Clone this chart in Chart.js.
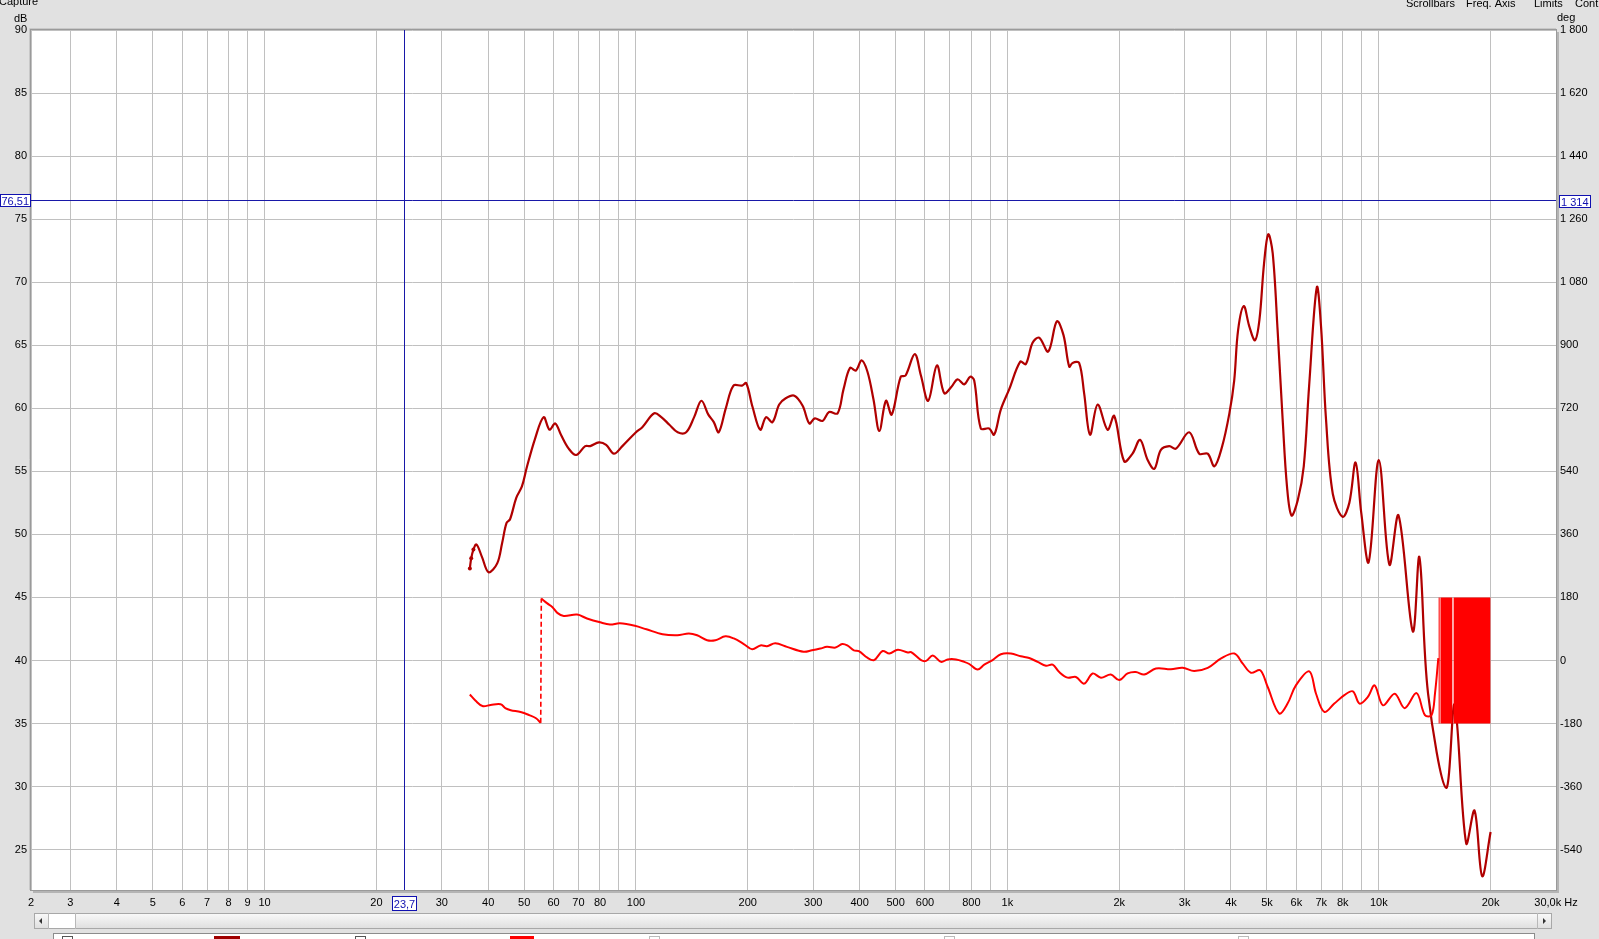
<!DOCTYPE html>
<html>
<head>
<meta charset="utf-8">
<script src="https://cdn.jsdelivr.net/npm/chart.js@4.4.0/dist/chart.umd.min.js"></script>
<style>
  html, body { margin: 0; padding: 0; background: #e1e1e1; overflow: hidden; }
  #wrap { position: absolute; left: 0; top: 0; width: 1599px; height: 939px; }
</style>
</head>
<body>
<div id="wrap"><canvas id="rew" width="1599" height="939"></canvas></div>
<script>
// magnitude trace (Hz, dB)
const magFreq = [35.7, 36.0, 36.5, 37.2, 38.5, 40.1, 42.3, 43.6, 44.8, 45.8, 47.6, 49.3, 50.8, 53.5, 56.4,
  58.5, 60.6, 62.8, 65.9, 69.0, 73.0, 75.3, 79.5, 83.1, 87.2, 91.9, 100, 104, 112, 117, 123, 129.5,
  136.5, 143.4, 150, 156.6, 162, 167, 174.5, 183, 193, 198, 206, 216, 224, 233, 243, 253, 267, 281,
  293, 303, 318, 331, 349, 362, 377, 391, 405, 420, 436, 452, 471, 488, 516, 532, 563, 585, 612, 646,
  676, 707, 734, 765, 794, 814, 848, 893, 921, 960, 1011, 1083, 1121, 1169, 1218, 1288, 1359, 1416,
  1467, 1498, 1560, 1609, 1669, 1750, 1861, 1939, 2062, 2172, 2276, 2386, 2486, 2590, 2728, 2843,
  3087, 3285, 3462, 3608, 3780, 3960, 4080, 4180, 4330, 4480, 4640, 4770, 4910, 5040, 5180, 5340,
  5510, 5660, 5820, 6050, 6280, 6490, 6810, 6990, 7210, 7520, 7990, 8330, 8660, 8970, 9390, 10000,
  10680, 11300, 12350, 12860, 13570, 15180, 16000, 17190, 18100, 18980, 20000];
const magDb = [47.3, 48.1, 48.8, 49.2, 48.2, 47.0, 47.7, 49.3, 50.9, 51.2, 52.9, 53.8, 55.3, 57.6, 59.3,
  58.3, 58.8, 57.9, 56.8, 56.3, 57.0, 57.0, 57.3, 57.1, 56.4, 57.0, 58.1, 58.5, 59.6, 59.3, 58.7, 58.1,
  58.1, 59.3, 60.6, 59.5, 58.9, 58.1, 60.0, 61.8, 61.8, 62.0, 60.1, 58.3, 59.3, 58.9, 60.3, 60.8, 61.0, 60.2,
  58.8, 59.2, 59.0, 59.7, 59.6, 61.5, 63.2, 63.0, 63.8, 62.9, 60.7, 58.2, 60.6, 59.5, 62.5, 62.6, 64.3, 62.6, 60.6, 63.4,
  61.2, 61.7, 62.3, 61.9, 62.5, 62.2, 58.4, 58.4, 57.9, 59.9, 61.5, 63.7, 63.5, 65.2, 65.6, 64.5, 66.9, 65.8,
  63.3, 63.6, 63.6, 61.2, 57.9, 60.3, 58.3, 59.4, 55.8, 56.4, 57.5, 55.9, 55.2, 56.7, 57.0, 56.8,
  58.1, 56.4, 56.4, 55.4, 56.9, 59.6, 62.2, 66.2, 68.1, 66.5, 65.4, 67.0, 71.5, 73.8, 72.3, 66.2,
  59.1, 53.8, 51.5, 52.7, 55.4, 61.7, 69.6, 66.5, 59.1, 53.2, 51.4, 52.5, 55.7, 51.7, 47.8, 55.9,
  47.6, 51.5, 42.3, 48.2, 37.4, 29.9, 36.5, 25.5, 28.1, 22.9, 26.4];

// phase trace (Hz, degrees, wrapped to +-180)
const phaseFreq = [35.7, 37.0, 38.6, 40.6, 43.2, 44.6, 46.0, 48.9, 51.6, 53.8, 55.4, 55.6, 57.7, 59.5,
  61.4, 63.9, 69.4, 73.8, 80.1, 85.1, 90.5, 99.3, 106.7, 117.9, 129.2, 138.8, 146.1, 155.4, 163.6, 174.1,
  183.4, 195.1, 205.5, 216.3, 225.3, 237.1, 254.9, 282.6, 297.6, 313.4, 326.7, 344.5, 359.2, 370.5,
  386.1, 398.2, 419.6, 437.5, 461.2, 481, 506.9, 539.4, 550.6, 585.7, 604.1, 629.7, 662.6, 690.6, 727.3,
  765.3, 789.3, 831.3, 866.3, 912.3, 960.4, 1022, 1087, 1145, 1206, 1270, 1324, 1379, 1452, 1529, 1610,
  1696, 1786, 1899, 2000, 2107, 2218, 2335, 2511, 2756, 2964, 3184, 3463, 3762, 4085, 4303, 4528, 4795,
  5019, 5393, 5680, 5981, 6500, 6777, 7134, 7590, 8077, 8514, 8874, 9344, 9743, 10262, 11037, 11741,
  12636, 13311, 13873, 14164, 14466];
const phaseDeg = [-97, -115, -130, -127, -125, -137, -142, -147, -156, -165, -178, 177, 163, 153,
  136, 127, 131, 120, 109, 103, 106, 99, 89, 75, 72, 77, 72, 58, 58, 69,
  63, 47, 32, 43, 41, 49, 39, 25, 29, 34, 39, 37, 47, 43,
  29, 27, 8, 1, 27, 20, 31, 23, 24, 1, -1, 14, -4, 3, 3,
  -4, -10, -26, -12, 1, 18, 20, 12, 7, -4, -15, -12, -33, -49, -47, -66,
  -37, -49, -40, -56, -37, -33, -40, -23, -25, -21, -30, -21, 6, 20, -9, -35, -28,
  -75, -151, -123, -71, -31, -95, -147, -123, -99, -88, -123, -104, -71, -128, -95, -136,
  -93, -156, -156, -95, 7];

// frequency bands where the phase wraps too fast to resolve (Hz)
const wrapBandStart = [14470, 14640, 15880];
const wrapBandEnd = [14600, 15800, 20000];

// axes
const freqTicks = [2.35, 3, 4, 5, 6, 7, 8, 9, 10, 20, 30, 40, 50, 60, 70, 80, 90, 100, 200, 300, 400, 500,
  600, 700, 800, 900, 1000, 2000, 3000, 4000, 5000, 6000, 7000, 8000, 9000, 10000, 20000, 30000];
const freqTickLabels = ['2', '3', '4', '5', '6', '7', '8', '9', '10', '20', '30', '40', '50', '60', '70', '80', '',
  '100', '200', '300', '400', '500', '600', '', '800', '', '1k', '2k', '3k', '4k', '5k', '6k', '7k', '8k', '',
  '10k', '20k', '30,0k Hz'];
const dbTicks = [25, 30, 35, 40, 45, 50, 55, 60, 65, 70, 75, 80, 85, 90];
const degTicks = [-540, -360, -180, 0, 180, 360, 540, 720, 900, 1080, 1260, 1440, 1620, 1800];
const degTickLabels = ['-540', '-360', '-180', '0', '180', '360', '540', '720', '900', '1 080', '1 260',
  '1 440', '1 620', '1 800'];

const cursorFreq = 23.7, cursorDb = 76.51;
const cursorFreqLabel = '23,7', cursorDbLabel = '76,51', cursorDegLabel = '1 314';

const dbMin = 21.8, dbMax = 90;
const degPerDb = 36, degZeroDb = 40;

const FONT = '"Liberation Sans", Arial, sans-serif';

// split phase where it wraps so the jump can be drawn dashed
let phaseParts = [[]];
let phaseJumps = [];
for (let i = 0; i < phaseFreq.length; i++) {
  if (i > 0 && Math.abs(phaseDeg[i] - phaseDeg[i - 1]) > 250) {
    phaseJumps.push([{x: phaseFreq[i - 1], y: phaseDeg[i - 1]}, {x: phaseFreq[i], y: phaseDeg[i]}]);
    phaseParts.push([]);
  }
  phaseParts[phaseParts.length - 1].push({x: phaseFreq[i], y: phaseDeg[i]});
}

let datasets = [];
datasets.push({
  label: 'SPL',
  data: magFreq.map((f, i) => ({x: f, y: magDb[i]})),
  yAxisID: 'y',
  borderColor: '#b00000',
  borderWidth: 2.2,
  tension: 0.35,
  pointRadius: ctx => ctx.dataIndex < 3 ? 2 : 0,
  pointBackgroundColor: '#b00000',
  pointBorderWidth: 0,
  order: 5
});
phaseParts.forEach(part => {
  datasets.push({
    label: 'Phase',
    data: part,
    yAxisID: 'y2',
    borderColor: '#ff0000',
    borderWidth: 2,
    tension: 0.35,
    pointRadius: 0,
    order: 2
  });
});
phaseJumps.forEach(j => {
  datasets.push({
    label: 'wrap',
    data: j,
    yAxisID: 'y2',
    borderColor: '#ff0000',
    borderWidth: 1.6,
    borderDash: [5, 3],
    tension: 0,
    pointRadius: 0,
    order: 2
  });
});
wrapBandStart.forEach((f0, i) => {
  datasets.push({
    label: 'wrapband',
    data: [{x: f0, y: 180}, {x: wrapBandEnd[i], y: 180}],
    yAxisID: 'y2',
    borderWidth: 0,
    borderColor: '#ff0000',
    backgroundColor: '#ff0000',
    fill: {value: -180},
    tension: 0,
    pointRadius: 0,
    order: 1
  });
});

function boxLabel(ctx, text, x, y, w, h, align) {
  ctx.fillStyle = '#ffffff';
  ctx.fillRect(x, y, w, h);
  ctx.strokeStyle = '#1010b0';
  ctx.lineWidth = 1;
  ctx.strokeRect(x + 0.5, y + 0.5, w - 1, h - 1);
  ctx.fillStyle = '#1010b0';
  ctx.font = '11px ' + FONT;
  ctx.textBaseline = 'middle';
  ctx.textAlign = align;
  let tx = align === 'left' ? x + 2 : (align === 'right' ? x + w - 2 : x + w / 2);
  ctx.fillText(text, tx, y + h / 2 + 1);
}

const chromePlugin = {
  id: 'chrome',
  beforeDraw(chart) {
    const ctx = chart.ctx, a = chart.chartArea;
    ctx.save();
    ctx.fillStyle = '#e1e1e1';
    ctx.fillRect(0, 0, chart.width, chart.height);
    // plot shadow + white area
    ctx.fillStyle = '#b4b4b4';
    ctx.fillRect(a.right, a.top + 2, 3, a.bottom - a.top + 1);
    ctx.fillRect(a.left + 2, a.bottom, a.right - a.left + 1, 3);
    ctx.fillStyle = '#ffffff';
    ctx.fillRect(a.left, a.top, a.right - a.left, a.bottom - a.top);
    ctx.restore();
  },
  afterDatasetsDraw(chart) {
    const ctx = chart.ctx, a = chart.chartArea;
    const xs = chart.scales.x, ys = chart.scales.y;
    ctx.save();
    // cursor
    const cx = Math.round(xs.getPixelForValue(cursorFreq)) + 0.5;
    const cy = Math.round(ys.getPixelForValue(cursorDb)) + 0.5;
    ctx.strokeStyle = '#1818a8';
    ctx.lineWidth = 1;
    ctx.beginPath();
    ctx.moveTo(cx, a.top); ctx.lineTo(cx, a.bottom);
    ctx.moveTo(a.left, cy); ctx.lineTo(a.right, cy);
    ctx.stroke();
    // plot border
    ctx.strokeStyle = '#9a9a9a';
    ctx.strokeRect(a.left - 0.5, a.top - 0.5, a.right - a.left + 1, a.bottom - a.top + 1);
    ctx.strokeStyle = '#c8c8c8';
    ctx.beginPath();
    ctx.moveTo(a.left - 1.5, a.bottom); ctx.lineTo(a.left - 1.5, a.top - 1.5); ctx.lineTo(a.right, a.top - 1.5);
    ctx.stroke();
    ctx.restore();
  },
  afterDraw(chart) {
    const ctx = chart.ctx, a = chart.chartArea;
    const xs = chart.scales.x, ys = chart.scales.y;
    ctx.save();
    const cx = xs.getPixelForValue(cursorFreq);
    const cy = Math.round(ys.getPixelForValue(cursorDb));
    boxLabel(ctx, cursorDbLabel, 0, cy - 6, 31, 13, 'right');
    boxLabel(ctx, cursorDegLabel, a.right + 3, cy - 5, 32, 13, 'left');
    boxLabel(ctx, cursorFreqLabel, Math.round(cx) - 12, a.bottom + 6, 25, 15, 'center');

    ctx.fillStyle = '#000';
    ctx.font = '11px ' + FONT;
    ctx.textBaseline = 'alphabetic';
    ctx.textAlign = 'left';
    ctx.fillText('dB', 14, 22);
    ctx.fillText('deg', 1557, 21);
    ctx.fillText('Capture', -1, 5);
    ctx.fillText('Scrollbars', 1406, 7);
    ctx.fillText('Freq. Axis', 1466, 7);
    ctx.fillText('Limits', 1534, 7);
    ctx.fillText('Cont', 1575, 7);

    // scrollbar
    const sy = 913, sh = 16, sx0 = 34, sx1 = 1552;
    let g = ctx.createLinearGradient(0, sy, 0, sy + sh);
    g.addColorStop(0, '#fafafa'); g.addColorStop(1, '#dedede');
    ctx.fillStyle = g;
    ctx.fillRect(sx0, sy, sx1 - sx0, sh);
    ctx.strokeStyle = '#a8a8a8';
    ctx.strokeRect(sx0 + 0.5, sy + 0.5, sx1 - sx0 - 1, sh - 1);
    ctx.fillStyle = '#ffffff';
    ctx.fillRect(49, sy + 1, 26, sh - 2);
    ctx.strokeStyle = '#b8b8b8';
    ctx.beginPath();
    ctx.moveTo(48.5, sy); ctx.lineTo(48.5, sy + sh);
    ctx.moveTo(75.5, sy); ctx.lineTo(75.5, sy + sh);
    ctx.moveTo(1537.5, sy); ctx.lineTo(1537.5, sy + sh);
    ctx.stroke();
    ctx.fillStyle = '#333';
    ctx.beginPath();
    ctx.moveTo(39, sy + 8); ctx.lineTo(42, sy + 5); ctx.lineTo(42, sy + 11); ctx.closePath(); ctx.fill();
    ctx.beginPath();
    ctx.moveTo(1546, sy + 8); ctx.lineTo(1543, sy + 5); ctx.lineTo(1543, sy + 11); ctx.closePath(); ctx.fill();

    // legend panel (cut off)
    ctx.fillStyle = '#ffffff';
    ctx.fillRect(53, 933, 1482, 8);
    ctx.strokeStyle = '#8c8c8c';
    ctx.strokeRect(53.5, 933.5, 1481, 10);
    [62, 355, 649, 944, 1238].forEach((bx, i) => {
      ctx.strokeStyle = i < 2 ? '#555' : '#bbb';
      ctx.strokeRect(bx + 0.5, 936.5, 10, 6);
    });
    ctx.fillStyle = '#a00000';
    ctx.fillRect(214, 936, 26, 4);
    ctx.fillStyle = '#ff0000';
    ctx.fillRect(510, 936, 24, 4);
    ctx.restore();
  }
};

new Chart(document.getElementById('rew'), {
  type: 'line',
  data: {datasets: datasets},
  options: {
    responsive: false,
    animation: false,
    events: [],
    layout: {padding: {top: 30, left: 0, right: 0, bottom: 0}},
    plugins: {legend: {display: false}, tooltip: {enabled: false}},
    scales: {
      x: {
        type: 'logarithmic',
        position: 'bottom',
        min: 2.35,
        max: 30000,
        afterBuildTicks: s => { s.ticks = freqTicks.map(v => ({value: v})); },
        afterFit: s => { s.height = 49; },
        grid: {color: '#c0c0c0', drawTicks: false, lineWidth: 1},
        border: {display: false},
        ticks: {
          autoSkip: false,
          maxRotation: 0,
          padding: 6,
          color: '#000',
          font: {family: FONT, size: 11},
          callback: (v, i) => freqTickLabels[i]
        }
      },
      y: {
        type: 'linear',
        position: 'left',
        min: dbMin,
        max: dbMax,
        afterBuildTicks: s => { s.ticks = dbTicks.map(v => ({value: v})); },
        afterFit: s => { s.width = 31; },
        grid: {color: '#c0c0c0', drawTicks: false},
        border: {display: false},
        ticks: {padding: 4, color: '#000', font: {family: FONT, size: 11}, callback: v => String(v)}
      },
      y2: {
        type: 'linear',
        position: 'right',
        min: (dbMin - degZeroDb) * degPerDb,
        max: (dbMax - degZeroDb) * degPerDb,
        afterBuildTicks: s => { s.ticks = degTicks.map(v => ({value: v})); },
        afterFit: s => { s.width = 43; },
        grid: {display: false, drawTicks: false},
        border: {display: false},
        ticks: {padding: 4, color: '#000', font: {family: FONT, size: 11},
          callback: (v, i) => degTickLabels[i]}
      }
    }
  },
  plugins: [chromePlugin]
});
</script>
</body>
</html>
